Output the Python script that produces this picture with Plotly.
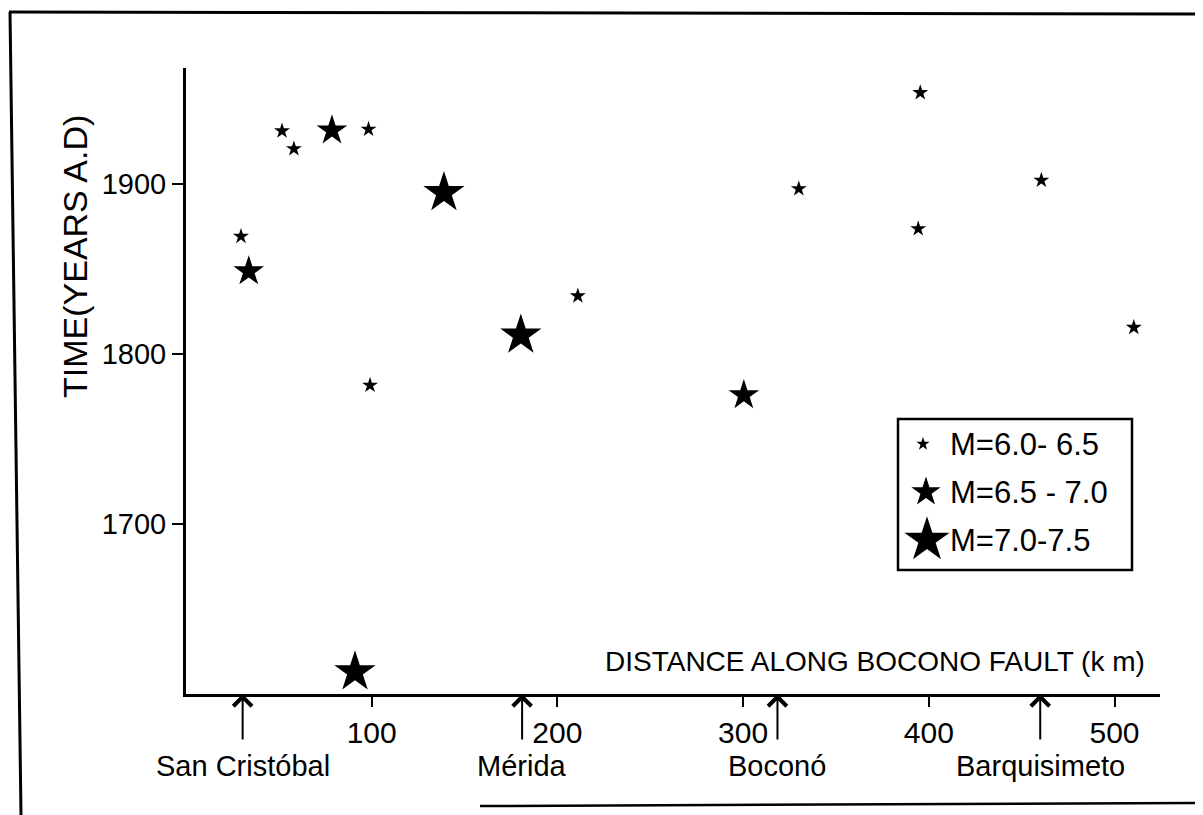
import plotly.graph_objects as go

# ---------------- data ----------------
small_km = [29.6, 51.7, 58.1, 98.3, 99.1, 211.0, 330.0, 395.4, 394.3, 460.6, 510.4]
small_yr = [1869, 1931, 1920.5, 1932, 1781.5, 1834, 1897, 1953.5, 1873.5, 1902, 1815.5]

medium_km = [33.8, 78.6, 300.4]
medium_yr = [1848.5, 1931.3, 1775.7]

large_km = [138.9, 180.3, 91.0]
large_yr = [1894.7, 1810.9, 1613.0]

legend_labels = ["M=6.0- 6.5", "M=6.5 - 7.0", "M=7.0-7.5"]

city_names = ["San Cristóbal", "Mérida", "Boconó", "Barquisimeto"]
city_km = [30.5, 181.0, 318.5, 460.0]

x_ticks = [100, 200, 300, 400, 500]
y_ticks = [1700, 1800, 1900]

# ---------------- layout geometry (page pixels) ----------------
PAGE_W, PAGE_H = 1203, 815
OFF = 8                      # default body margin of the html page
W, H = PAGE_W - OFF, PAGE_H - OFF
L, R, T, B = 186, 1160, 68, 694   # plot area on the page
FONT = "Liberation Sans, Arial, sans-serif"


def px_x(px):
    return (px - L) / (R - L)


def px_y(py):
    return (B - py) / (B - T)


SIZES = [12, 23, 31]

fig = go.Figure()
for xs, ys, s, name in [(small_km, small_yr, SIZES[0], legend_labels[0]),
                        (medium_km, medium_yr, SIZES[1], legend_labels[1]),
                        (large_km, large_yr, SIZES[2], legend_labels[2])]:
    fig.add_trace(go.Scatter(
        x=xs, y=ys, mode="markers", name=name, showlegend=False,
        marker=dict(symbol="star", size=s, color="black", line=dict(width=0)),
        cliponaxis=False,
    ))

# custom legend (drawn on an overlay frame equal to the plot area)
leg_rows = [444, 492, 540]
leg_star_x = [923, 926, 927]
leg_sizes = [10, 22, 34]
for i in range(3):
    fig.add_trace(go.Scatter(
        x=[px_x(leg_star_x[i])], y=[px_y(leg_rows[i])], mode="markers",
        xaxis="x2", yaxis="y2", showlegend=False, hoverinfo="skip",
        marker=dict(symbol="star", size=leg_sizes[i], color="black", line=dict(width=0)),
        cliponaxis=False,
    ))

annotations = []
for i, lab in enumerate(legend_labels):
    annotations.append(dict(
        x=px_x(948), y=px_y(leg_rows[i]), xref="paper", yref="paper",
        text=lab, showarrow=False, xanchor="left", yanchor="middle",
        font=dict(family=FONT, size=31, color="black")))

# city arrows and labels
for name, km in zip(city_names, city_km):
    annotations.append(dict(
        x=km, y=1600, xref="x", yref="y", ax=0, ay=47, axref="pixel", ayref="pixel",
        text="", showarrow=True, arrowhead=4, arrowsize=1.8, arrowwidth=2,
        arrowcolor="black", standoff=0))
    annotations.append(dict(
        x=km, y=px_y(766), xref="x", yref="paper", text=name, showarrow=False,
        xanchor="center", yanchor="middle",
        font=dict(family=FONT, size=29, color="black")))

# axis titles
annotations.append(dict(
    x=px_x(1147), y=px_y(661), xref="paper", yref="paper",
    text="DISTANCE ALONG BOCONO FAULT (k m)", showarrow=False,
    xanchor="right", yanchor="middle",
    font=dict(family=FONT, size=28, color="black")))
annotations.append(dict(
    x=px_x(75), y=px_y(257), xref="paper", yref="paper",
    text="TIME(YEARS A.D)", textangle=-90, showarrow=False,
    xanchor="center", yanchor="middle",
    font=dict(family=FONT, size=34, color="black")))

shapes = [
    # legend box
    dict(type="rect", xref="paper", yref="paper",
         x0=px_x(898), x1=px_x(1132), y0=px_y(570), y1=px_y(419),
         line=dict(color="black", width=2.5), fillcolor="rgba(0,0,0,0)"),
    # outer frame of the scanned figure
    dict(type="line", xref="paper", yref="paper",
         x0=px_x(9), y0=px_y(12), x1=px_x(1203), y1=px_y(14),
         line=dict(color="black", width=3)),
    dict(type="line", xref="paper", yref="paper",
         x0=px_x(10), y0=px_y(12), x1=px_x(21), y1=px_y(815),
         line=dict(color="black", width=3)),
    dict(type="line", xref="paper", yref="paper",
         x0=px_x(480), y0=px_y(806), x1=px_x(1203), y1=px_y(803),
         line=dict(color="black", width=2.5)),
]

fig.update_layout(
    width=W, height=H, autosize=False,
    margin=dict(l=L - OFF, r=PAGE_W - R, t=T - OFF, b=PAGE_H - B, pad=0),
    paper_bgcolor="white", plot_bgcolor="white",
    showlegend=False,
    font=dict(family=FONT, size=28, color="black"),
    xaxis=dict(range=[0, 524.5], showgrid=False, zeroline=False,
               showline=True, linecolor="black", linewidth=3,
               ticks="outside", ticklen=10, tickwidth=2, tickcolor="black",
               tickvals=x_ticks, ticktext=[str(v) for v in x_ticks],
               tickfont=dict(family=FONT, size=30, color="black"),
               fixedrange=True),
    yaxis=dict(range=[1600, 1968], showgrid=False, zeroline=False,
               showline=True, linecolor="black", linewidth=3,
               ticks="outside", ticklen=11, tickwidth=2, tickcolor="black",
               tickvals=y_ticks, ticktext=[str(v) for v in y_ticks],
               tickfont=dict(family=FONT, size=29, color="black"),
               fixedrange=True),
    xaxis2=dict(range=[0, 1], overlaying="x", visible=False, fixedrange=True),
    yaxis2=dict(range=[0, 1], overlaying="y", visible=False, fixedrange=True),
    annotations=annotations,
    shapes=shapes,
)

fig.write_html("out.html")
